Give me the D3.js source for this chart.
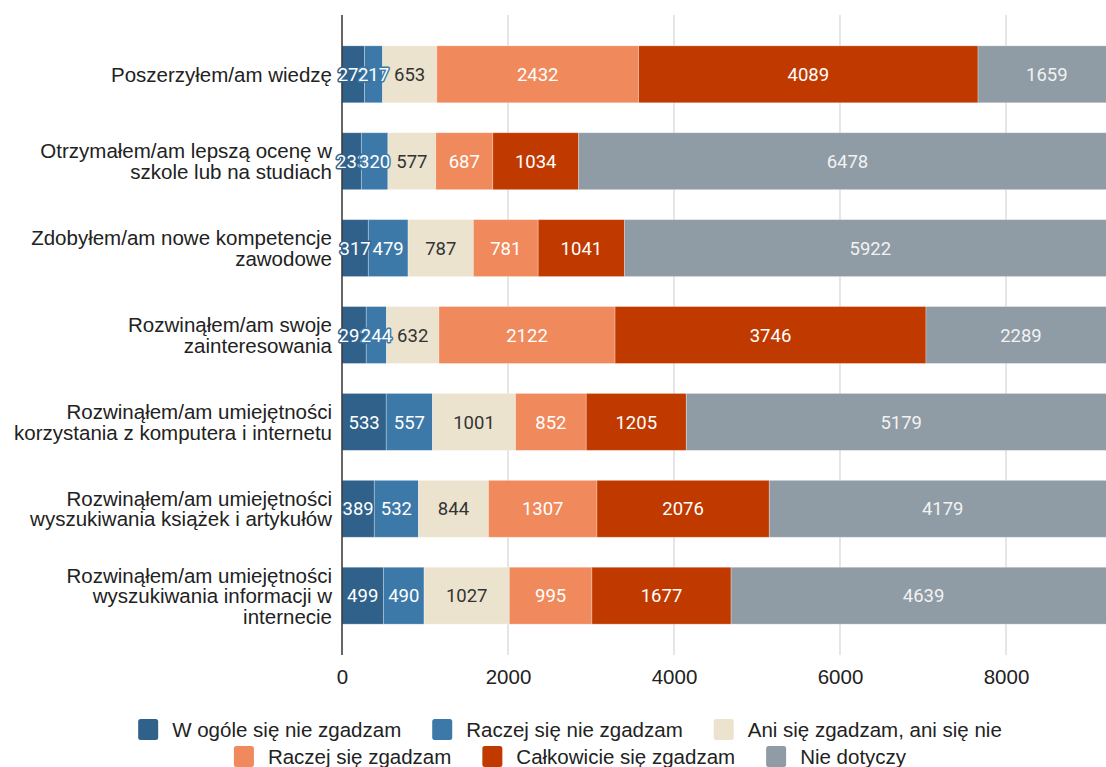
<!DOCTYPE html>
<html>
<head>
<meta charset="utf-8">
<script src="https://cdn.jsdelivr.net/npm/d3@7"></script>
<style>
  html, body { margin: 0; padding: 0; background: #fff; }
  svg { display: block; }
</style>
</head>
<body>
<svg id="chart" width="1106" height="767"></svg>
<script>
const categories = [
  "Poszerzyłem/am wiedzę",
  "Otrzymałem/am lepszą ocenę w szkole lub na studiach",
  "Zdobyłem/am nowe kompetencje zawodowe",
  "Rozwinąłem/am swoje zainteresowania",
  "Rozwinąłem/am umiejętności korzystania z komputera i internetu",
  "Rozwinąłem/am umiejętności wyszukiwania książek i artykułów",
  "Rozwinąłem/am umiejętności wyszukiwania informacji w internecie"
];
const seriesNames = [
  "W ogóle się nie zgadzam",
  "Raczej się nie zgadzam",
  "Ani się zgadzam, ani się nie",
  "Raczej się zgadzam",
  "Całkowicie się zgadzam",
  "Nie dotyczy"
];
const seriesColors = ["#30618a", "#3c79a9", "#ebe3ce", "#f0895c", "#c03a00", "#8f9ba5"];
const labelColors = ["#ffffff", "#ffffff", "#333333", "#ffffff", "#ffffff", "#f2f2f2"];
const stronglyDisagree = [272, 233, 317, 292, 533, 389, 499];
const ratherDisagree   = [217, 320, 479, 244, 557, 532, 490];
const neutral          = [653, 577, 787, 632, 1001, 844, 1027];
const ratherAgree      = [2432, 687, 781, 2122, 852, 1307, 995];
const stronglyAgree    = [4089, 1034, 1041, 3746, 1205, 2076, 1677];
const notApplicable    = [1659, 6478, 5922, 2289, 5179, 4179, 4639];
const tickValues = [0, 2000, 4000, 6000, 8000];

const seriesValues = [stronglyDisagree, ratherDisagree, neutral, ratherAgree, stronglyAgree, notApplicable];
const rows = categories.map((c, i) => {
  const r = { cat: c };
  seriesNames.forEach((s, k) => r[s] = seriesValues[k][i]);
  return r;
});
const stacked = d3.stack().keys(seriesNames)(rows);

const svg = d3.select("#chart");
const x = d3.scaleLinear().domain([0, 9205]).range([342, 1106]);
const y = d3.scaleBand().domain(categories).range([15, 655]).paddingInner(0.345).paddingOuter(0.355);

const axisFont = "'Liberation Sans', Arial, sans-serif";

// gridlines
svg.append("g").selectAll("line").data(tickValues.filter(t => t > 0)).join("line")
  .attr("x1", d => x(d)).attr("x2", d => x(d))
  .attr("y1", 15).attr("y2", 655)
  .attr("stroke", "#cccccc").attr("stroke-width", 1);

// bars
const layers = svg.append("g").selectAll("g").data(stacked).join("g")
  .attr("fill", (d, i) => seriesColors[i]);
layers.selectAll("rect").data(d => d).join("rect")
  .attr("x", d => x(d[0]))
  .attr("width", d => x(d[1]) - x(d[0]))
  .attr("y", d => y(d.data.cat))
  .attr("height", y.bandwidth())
  .attr("stroke", "rgba(255,255,255,0.35)")
  .attr("stroke-width", 0.8);

// zero axis line
svg.append("line")
  .attr("x1", x(0)).attr("x2", x(0)).attr("y1", 15).attr("y2", 655)
  .attr("stroke", "#333").attr("stroke-width", 1.5);

// data labels
stacked.forEach((layer, k) => {
  svg.append("g").selectAll("text").data(layer).join("text")
    .attr("x", d => (x(d[0]) + x(d[1])) / 2)
    .attr("y", d => y(d.data.cat) + y.bandwidth() / 2)
    .attr("dy", "0.36em")
    .attr("text-anchor", "middle")
    .attr("font-family", "Roboto, sans-serif")
    .attr("font-size", 18.5)
    .attr("fill", labelColors[k])
    .attr("stroke", seriesColors[k])
    .attr("stroke-width", 3)
    .attr("stroke-linejoin", "round")
    .attr("paint-order", "stroke")
    .text(d => d[1] - d[0]);
});

// x axis tick labels
const xAxis = svg.append("g").attr("transform", "translate(0,655)")
  .call(d3.axisBottom(x).tickValues(tickValues).tickSize(0).tickPadding(14).tickFormat(d3.format("d")));
xAxis.select(".domain").remove();
xAxis.selectAll("text").attr("font-family", axisFont).attr("font-size", 20.5).attr("fill", "#222");

// category labels (wrapped)
const catG = svg.append("g");
const maxW = 322;
categories.forEach(c => {
  const t = catG.append("text")
    .attr("text-anchor", "end")
    .attr("font-family", axisFont).attr("font-size", 20.5).attr("fill", "#222");
  const words = c.split(" ");
  const lines = [];
  let cur = [];
  const probe = catG.append("text").attr("font-family", axisFont).attr("font-size", 20.5);
  words.forEach(w => {
    const test = cur.concat([w]).join(" ");
    probe.text(test);
    if (probe.node().getComputedTextLength() > maxW && cur.length) {
      lines.push(cur.join(" "));
      cur = [w];
    } else cur.push(w);
  });
  lines.push(cur.join(" "));
  probe.remove();
  const lh = 20.5;
  const cy = y(c) + y.bandwidth() / 2;
  lines.forEach((ln, i) => {
    t.append("tspan").attr("x", 332)
      .attr("y", cy + (i - (lines.length - 1) / 2) * lh)
      .attr("dy", "0.36em").text(ln);
  });
});

// legend
const legendRows = [[0, 1, 2], [3, 4, 5]];
const legendY = [729.5, 756.5];
const legendCenter = 570;
const lg = svg.append("g");
legendRows.forEach((row, ri) => {
  const items = row.map(k => {
    const g = lg.append("g");
    g.append("rect").attr("width", 20).attr("height", 21).attr("rx", 2.5)
      .attr("y", legendY[ri] - 10.5).attr("fill", seriesColors[k]);
    const tx = g.append("text").attr("x", 34).attr("y", legendY[ri]).attr("dy", "0.36em")
      .attr("font-family", axisFont).attr("font-size", 20.5).attr("fill", "#222")
      .text(seriesNames[k]);
    return { g, w: 34 + tx.node().getComputedTextLength() };
  });
  const gap = 31;
  const total = d3.sum(items, d => d.w) + gap * (items.length - 1);
  let cx = legendCenter - total / 2;
  items.forEach(it => {
    it.g.attr("transform", `translate(${cx},0)`);
    cx += it.w + gap;
  });
});
</script>
</body>
</html>
